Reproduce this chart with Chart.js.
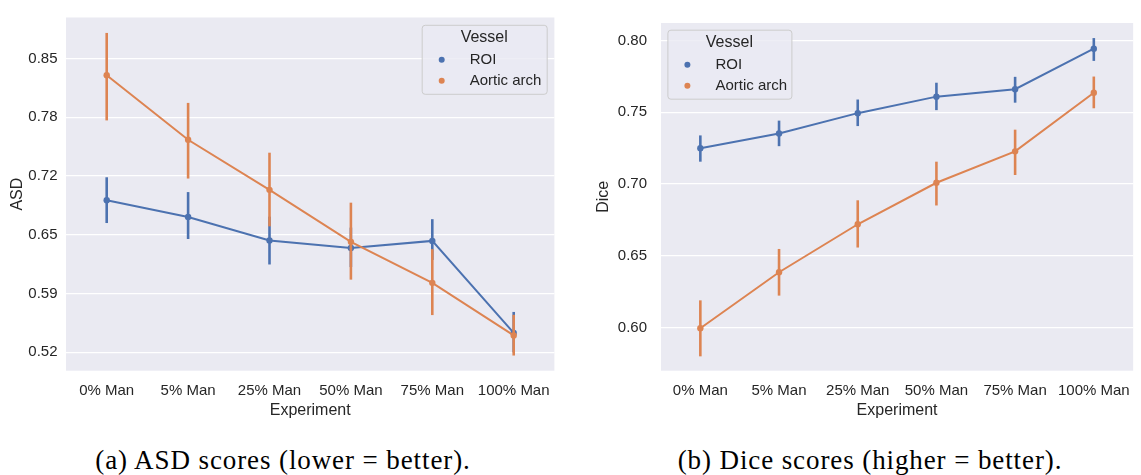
<!DOCTYPE html>
<html>
<head>
<meta charset="utf-8">
<script src="https://cdn.jsdelivr.net/npm/chart.js@4"></script>
<style>
  body { margin: 0; background: #fff; width: 1141px; height: 475px; position: relative; overflow: hidden; }
  .box { position: absolute; top: 0; height: 425px; }
  .cap { position: absolute; top: 445px; line-height: 30px; font-family: "Liberation Serif", serif; font-size: 27px;
         letter-spacing: 0.9px; white-space: nowrap; transform: translateX(-50%); color: #000; }
</style>
</head>
<body>
<div class="box" style="left:0;width:570px"><canvas id="asd" width="570" height="425"></canvas></div>
<div class="box" style="left:570px;width:571px"><canvas id="dice" width="571" height="425"></canvas></div>
<div class="cap" style="left:283px">(a) ASD scores (lower = better).</div>
<div class="cap" style="left:870px">(b) Dice scores (higher = better).</div>
<script>
var experiments = ['0% Man', '5% Man', '25% Man', '50% Man', '75% Man', '100% Man'];

// ASD, lower = better (mean + error bar ends)
var asdRoi = [0.6915, 0.6729, 0.6466, 0.6383, 0.6462, 0.5436];
var asdRoiLow = [0.6661, 0.6483, 0.6199, 0.617, 0.625, 0.522];
var asdRoiHigh = [0.7171, 0.7006, 0.6732, 0.661, 0.6704, 0.567];
var asdArch = [0.8309, 0.7589, 0.7031, 0.6451, 0.5994, 0.5408];
var asdArchLow = [0.7805, 0.7157, 0.6624, 0.603, 0.5635, 0.5184];
var asdArchHigh = [0.878, 0.80, 0.7445, 0.6888, 0.637, 0.5638];
var asdTicks = [0.522, 0.5875, 0.653, 0.7185, 0.784, 0.8495];

// Dice, higher = better
var diceRoi = [0.725, 0.7352, 0.7494, 0.7609, 0.7661, 0.7943];
var diceRoiLow = [0.7156, 0.7264, 0.7404, 0.7515, 0.7567, 0.7858];
var diceRoiHigh = [0.7339, 0.7442, 0.7589, 0.7706, 0.7747, 0.8017];
var diceArch = [0.5996, 0.6386, 0.672, 0.7009, 0.7228, 0.7636];
var diceArchLow = [0.58, 0.6223, 0.6558, 0.6851, 0.7063, 0.7528];
var diceArchHigh = [0.619, 0.6548, 0.6887, 0.7156, 0.7379, 0.7749];
var diceTicks = [0.60, 0.65, 0.70, 0.75, 0.80];

var BLUE = '#4c72b0';
var ORANGE = '#dd8452';
var INK = '#262626';

Chart.defaults.font.family = '"Liberation Sans", Arial, sans-serif';
Chart.defaults.color = INK;

// grey seaborn-ish panel
var panelBg = {
  id: 'panelBg',
  beforeDraw: function (chart) {
    var a = chart.chartArea, ctx = chart.ctx;
    ctx.save();
    ctx.fillStyle = '#eaeaf2';
    ctx.fillRect(a.left, a.top, a.right - a.left, a.bottom - a.top);
    ctx.restore();
  }
};

// vertical error bars, drawn just before each line
var errorBars = {
  id: 'errorBars',
  beforeDatasetDraw: function (chart, args) {
    var ds = chart.data.datasets[args.index];
    var x = chart.scales.x, y = chart.scales.y, ctx = chart.ctx;
    ctx.save();
    ctx.strokeStyle = ds.borderColor;
    ctx.lineWidth = 2.6;
    ds.errLow.forEach(function (lo, i) {
      var px = x.getPixelForValue(i);
      ctx.beginPath();
      ctx.moveTo(px, y.getPixelForValue(lo));
      ctx.lineTo(px, y.getPixelForValue(ds.errHigh[i]));
      ctx.stroke();
    });
    ctx.restore();
  }
};

// boxed legend with a title, like the seaborn one
var vesselLegend = {
  id: 'vesselLegend',
  afterDraw: function (chart, args, opts) {
    var ctx = chart.ctx, a = chart.chartArea;
    var w = opts.width, h = 69;
    var left = opts.side === 'right' ? a.right - opts.margin - w : a.left + opts.margin;
    var top = a.top + opts.top;
    ctx.save();
    ctx.fillStyle = 'rgba(234,234,242,0.8)';
    ctx.strokeStyle = '#cccccc';
    ctx.lineWidth = 1;
    ctx.beginPath();
    ctx.roundRect(left + 0.5, top + 0.5, w, h, 3);
    ctx.fill();
    ctx.stroke();
    ctx.textBaseline = 'middle';
    ctx.textAlign = 'center';
    ctx.fillStyle = INK;
    ctx.font = '16px "Liberation Sans"';
    ctx.fillText('Vessel', left + w / 2, top + 12.5);
    ctx.textAlign = 'left';
    ctx.font = '15px "Liberation Sans"';
    var sets = chart.data.datasets;
    for (var i = 0; i < sets.length; i++) {
      var ry = top + 35 + i * 21;
      ctx.fillStyle = sets[i].borderColor;
      ctx.beginPath();
      ctx.arc(left + 20, ry, 3, 0, Math.PI * 2);
      ctx.fill();
      ctx.fillStyle = INK;
      ctx.fillText(sets[i].label, left + 48, ry);
    }
    ctx.restore();
  }
};

function lineSet(label, color, values, low, high, order) {
  return {
    label: label,
    data: values,
    errLow: low,
    errHigh: high,
    borderColor: color,
    backgroundColor: color,
    pointBackgroundColor: color,
    borderWidth: 2,
    pointRadius: 3.2,
    pointBorderWidth: 0,
    tension: 0,
    order: order
  };
}

function makeChart(id, cfg) {
  return new Chart(document.getElementById(id), {
    type: 'line',
    data: {
      labels: experiments,
      datasets: [
        lineSet('ROI', BLUE, cfg.roi, cfg.roiLow, cfg.roiHigh, 2),
        lineSet('Aortic arch', ORANGE, cfg.arch, cfg.archLow, cfg.archHigh, 1)
      ]
    },
    options: {
      responsive: false,
      animation: false,
      layout: { padding: { top: cfg.padTop, right: cfg.padRight, left: 0, bottom: 0 } },
      plugins: {
        legend: { display: false },
        tooltip: { enabled: false },
        vesselLegend: cfg.legend
      },
      scales: {
        x: {
          offset: true,
          grid: { display: false, drawTicks: false },
          border: { display: false },
          ticks: { padding: 11, color: INK, font: { size: 15 } },
          title: { display: true, text: 'Experiment', color: INK, font: { size: 16 }, padding: { top: 0, bottom: 4.7 } },
          afterFit: function (s) { s.height = 54.3; }
        },
        y: {
          min: cfg.min,
          max: cfg.max,
          afterBuildTicks: function (s) { s.ticks = cfg.ticks.map(function (v) { return { value: v }; }); },
          grid: { color: '#ffffff', lineWidth: 1.3, drawTicks: false },
          border: { display: false },
          ticks: {
            padding: cfg.tickPad, color: INK, font: { size: 15 },
            callback: function (v) { return v.toFixed(2); }
          },
          title: { display: true, text: cfg.yTitle, color: INK, font: { size: 16 }, padding: { top: cfg.titlePad, bottom: 0 } },
          afterFit: function (s) { s.width = cfg.yWidth; }
        }
      }
    },
    plugins: [panelBg, errorBars, vesselLegend]
  });
}

makeChart('asd', {
  roi: asdRoi, roiLow: asdRoiLow, roiHigh: asdRoiHigh,
  arch: asdArch, archLow: asdArchLow, archHigh: asdArchHigh,
  ticks: asdTicks, min: 0.5015, max: 0.8952,
  yTitle: 'ASD', yWidth: 66, tickPad: 8.5, titlePad: 7.9,
  padTop: 6, padRight: 15.6,
  legend: { side: 'right', margin: 7.7, top: 7.3, width: 125 }
});

makeChart('dice', {
  roi: diceRoi, roiLow: diceRoiLow, roiHigh: diceRoiHigh,
  arch: diceArch, archLow: diceArchLow, archHigh: diceArchHigh,
  ticks: diceTicks, min: 0.570, max: 0.8122,
  yTitle: 'Dice', yWidth: 91, tickPad: 14, titlePad: 23.7,
  padTop: 13.3, padRight: 0,
  legend: { side: 'left', margin: 6.4, top: 6.7, width: 124 }
});
</script>
</body>
</html>
